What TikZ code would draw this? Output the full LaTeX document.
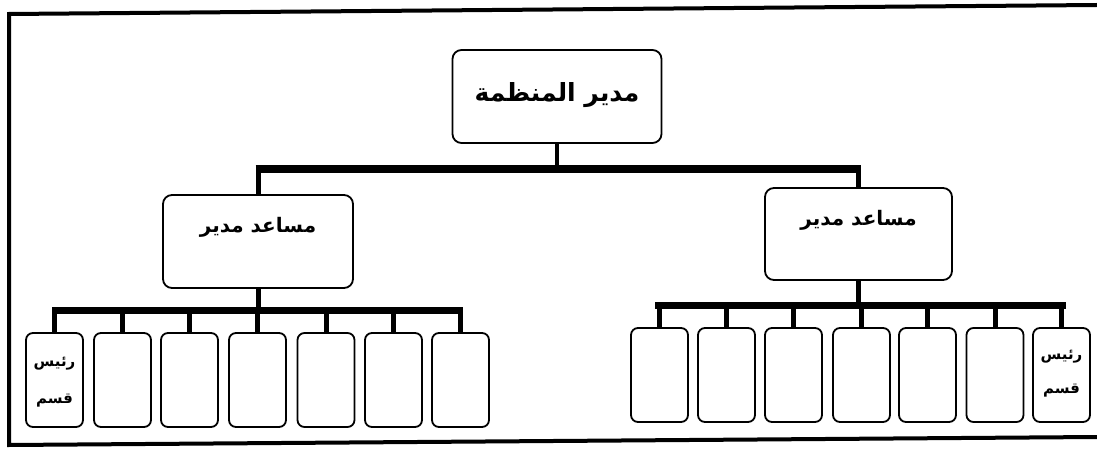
\documentclass[tikz,border=0pt]{standalone}
\usepackage{fontspec}
\newfontfamily\arabicfont[Script=Arabic,BoldFont={DejaVu Sans Bold}]{DejaVu Sans}
\TeXXeTstate=1
\begin{document}
\begin{tikzpicture}[x=1pt,y=-1pt,
  box/.style={draw, line width=1.8pt, rounded corners=9pt, inner sep=0pt},
  kid/.style={box, rounded corners=7pt, minimum width=57pt, minimum height=94pt},
  bar/.style={line width=7pt},
  stem/.style={line width=5pt},
  frame/.style={line width=4pt, line cap=rect},
  lbl/.style={inner sep=0pt, font=\arabicfont}
]
\useasboundingbox (0,0) rectangle (1097,449);
% frame
\coordinate (ftl) at (9,14);
\coordinate (ftr) at (1097,5);
\coordinate (fbl) at (9,445);
\coordinate (fbr) at (1097,437);
\draw[frame] (ftr) -- (ftl) -- (fbl) -- (fbr);

% top box
\node[box, minimum width=209pt, minimum height=93pt] (top) at (557,96.5) {};
\node[lbl, font=\arabicfont\bfseries\fontsize{25}{30}\selectfont] (topt) at (557,95) {\beginR مدير المنظمة\endR};

% middle boxes
\node[box, minimum width=190pt, minimum height=93pt] (lm) at (258,241.5) {};
\node[lbl, font=\arabicfont\bfseries\fontsize{20}{24}\selectfont] (lmt) at (258,227) {\beginR مساعد مدير\endR};
\node[box, minimum width=187pt, minimum height=92pt] (rm) at (858.5,234) {};
\node[lbl, font=\arabicfont\bfseries\fontsize{20}{24}\selectfont] (rmt) at (858.5,220) {\beginR مساعد مدير\endR};

% top bar
\coordinate (b1L) at (258,169);
\coordinate (b1R) at (858.5,169);
\draw[stem, line width=3.5pt] (top.south) -- (top.south |- b1L);
\draw[bar, line width=8pt] ([xshift=-2.5pt]b1L) -- ([xshift=2.5pt]b1R);
\draw[stem] (b1L) -- (lm.north);
\draw[stem] (b1R) -- (rm.north);

% left children
\foreach \i/\x in {1/54.5,2/122.5,3/189.5,4/257.5,5/326,6/393.5,7/460.5}{
  \node[kid] (l\i) at (\x,380) {};
}
\coordinate (b2L) at (52,310);
\coordinate (b2R) at (463,310);
\draw[stem] (lm.south) -- (lm.south |- b2L);
\draw[bar] (b2L) -- (b2R);
\foreach \i in {1,...,7}{
  \draw[stem] (l\i.north |- b2L) -- (l\i.north);
}
\node[lbl, font=\arabicfont\bfseries\fontsize{15}{18}\selectfont] (l1a) at (54.5,364) {\beginR رئيس\endR};
\node[lbl, font=\arabicfont\bfseries\fontsize{15}{18}\selectfont] (l1b) at (54.5,401) {\beginR قسم\endR};

% right children
\foreach \i/\x in {1/659.5,2/726.5,3/793.5,4/861.5,5/927.5,6/995,7/1061.5}{
  \node[kid] (r\i) at (\x,375) {};
}
\coordinate (b3L) at (655,305);
\coordinate (b3R) at (1066,305);
\draw[stem] (rm.south) -- (rm.south |- b3L);
\draw[bar] (b3L) -- (b3R);
\foreach \i in {1,...,7}{
  \draw[stem] (r\i.north |- b3L) -- (r\i.north);
}
\node[lbl, font=\arabicfont\bfseries\fontsize{15}{18}\selectfont] (r7a) at (1061.5,357) {\beginR رئيس\endR};
\node[lbl, font=\arabicfont\bfseries\fontsize{15}{18}\selectfont] (r7b) at (1061.5,391) {\beginR قسم\endR};
\end{tikzpicture}
\end{document}
